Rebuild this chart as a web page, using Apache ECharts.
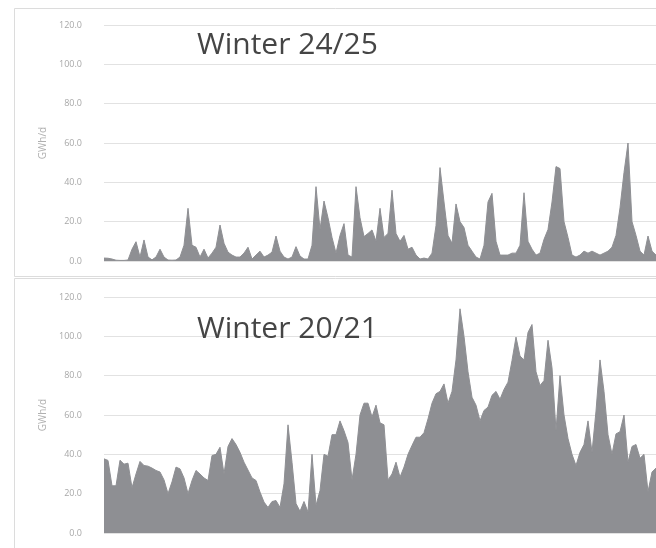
<!DOCTYPE html>
<html>
<head>
<meta charset="utf-8">
<script src="https://cdn.jsdelivr.net/npm/echarts@6/dist/echarts.min.js"></script>
<style>
  html, body { margin: 0; padding: 0; background: #fff; }
  #main { width: 656px; height: 548px; }
</style>
</head>
<body>
<div id="main"></div>
<script>
// daily values, GWh/d
const winter2425 = [
  1.5, 1.4, 1.0, 0.4, 0.3, 0.3, 0.5, 6, 9.8, 2,
  10.7, 2, 0.6, 2, 6, 2, 0.5, 0.4, 0.5, 2,
  8, 26.8, 8, 7, 2, 6, 1.5, 4, 7, 18.3,
  9, 4.5, 3, 2, 2, 4, 7, 1, 3, 5,
  2, 3, 4.5, 12.7, 5, 2, 1, 2, 7.3, 2.5,
  1, 1, 8, 37.8, 16, 30.5, 22, 12, 4, 13,
  19, 3, 2, 37.8, 22, 12.4, 14, 15.8, 10, 26.8,
  12, 14, 36, 14, 10, 13, 6, 7, 3, 1,
  1.5, 1, 4, 18, 47.5, 30, 13, 9, 29, 20,
  17, 8, 5, 2, 1, 8, 30, 34.4, 10, 3,
  3, 3, 4, 4, 8, 34.7, 10, 6, 3, 4,
  11, 16, 30, 48, 47, 20, 12, 3, 2, 3,
  5, 4, 5, 4, 3, 4, 5, 7, 13, 27,
  45, 60, 20, 13, 5, 3, 12.7, 5, 3
];
const winter2021 = [
  37.7, 36.9, 24, 24, 37, 35, 35.5, 23, 30, 36.4,
  34.3, 34, 33, 31.8, 31, 27, 20, 26, 33.5, 32.6,
  28, 20, 26.7, 31.8, 30, 28, 26.7, 39.4, 40, 43.6,
  30, 44, 48, 45, 41, 36, 32, 28, 26.7, 20.8,
  15.7, 13, 16, 16.5, 13, 25, 55, 36, 15, 11,
  16, 10.6, 40, 14, 21.6, 40, 39, 50, 50, 57,
  52, 46, 27, 40, 60, 66, 66, 59, 65, 56,
  55, 27, 30, 36, 28.4, 33.5, 40, 44.5, 48.7, 48.7,
  51, 58, 66, 70.8, 72, 75.8, 66, 72, 88, 114,
  100, 82, 69, 65, 57, 62.3, 64, 70, 72, 68,
  73, 76.7, 87.7, 99.6, 90, 88, 102, 106, 82, 75,
  77.5, 98, 84, 52, 80, 60, 48, 40, 34.3, 41,
  45, 57, 41, 62, 88, 72, 50, 40, 50.4, 51.5,
  60, 36, 44, 45, 38, 40, 21, 31, 33
];
const days = winter2425.map((v, i) => i + 1);
const panelTitles = ['Winter 24/25', 'Winter 20/21'];

const chart = echarts.init(document.getElementById('main'));

const fillColor = '#8e8f93';

const yAxisBase = {
  type: 'value',
  min: 0,
  max: 120,
  interval: 20,
  name: 'GWh/d',
  nameLocation: 'middle',
  nameRotate: 90,
  nameGap: 56,
  nameTextStyle: { color: '#b0b0b0', fontSize: 10, fontFamily: 'Open Sans' },
  axisLabel: {
    color: '#a8a8a8',
    fontSize: 9,
    fontFamily: 'Open Sans',
    margin: 22,
    formatter: v => v.toFixed(1)
  },
  axisLine: { show: false },
  axisTick: { show: false },
  splitLine: { lineStyle: { color: '#e2e2e2', width: 1 } }
};

const xAxisBase = {
  type: 'category',
  data: days,
  boundaryGap: false,
  axisLine: { show: false },
  axisTick: { show: false },
  axisLabel: { show: false },
  splitLine: { show: false }
};

const areaSeries = (data, idx) => ({
  type: 'line',
  xAxisIndex: idx,
  yAxisIndex: idx,
  data: data,
  symbol: 'none',
  smooth: false,
  lineStyle: { color: fillColor, width: 1 },
  areaStyle: { color: fillColor, opacity: 1 },
  silent: true
});

const option = {
  backgroundColor: '#fff',
  animation: false,
  grid: [
    { left: 104, right: 0, top: 25, height: 236 },
    { left: 104, right: 0, top: 297, height: 236 }
  ],
  xAxis: [
    Object.assign({ gridIndex: 0 }, xAxisBase),
    Object.assign({ gridIndex: 1 }, xAxisBase)
  ],
  yAxis: [
    Object.assign({ gridIndex: 0 }, yAxisBase),
    Object.assign({ gridIndex: 1 }, yAxisBase)
  ],
  series: [
    areaSeries(winter2425, 0),
    areaSeries(winter2021, 1)
  ],
  graphic: [
    // panel frames
    {
      type: 'rect', z: -1,
      shape: { x: 14.5, y: 8.5, width: 700, height: 268 },
      style: { fill: 'none', stroke: '#dcdcdc', lineWidth: 1 }
    },
    {
      type: 'rect', z: -1,
      shape: { x: 14.5, y: 278.5, width: 700, height: 300 },
      style: { fill: 'none', stroke: '#dcdcdc', lineWidth: 1 }
    },
    {
      type: 'text', left: 197, top: 30, z: 10,
      style: { text: panelTitles[0], fill: '#454545', fontSize: 30, fontFamily: 'Open Sans' }
    },
    {
      type: 'text', left: 197, top: 314, z: 10,
      style: { text: panelTitles[1], fill: '#454545', fontSize: 30, fontFamily: 'Open Sans' }
    }
  ]
};

chart.setOption(option);
</script>
</body>
</html>
